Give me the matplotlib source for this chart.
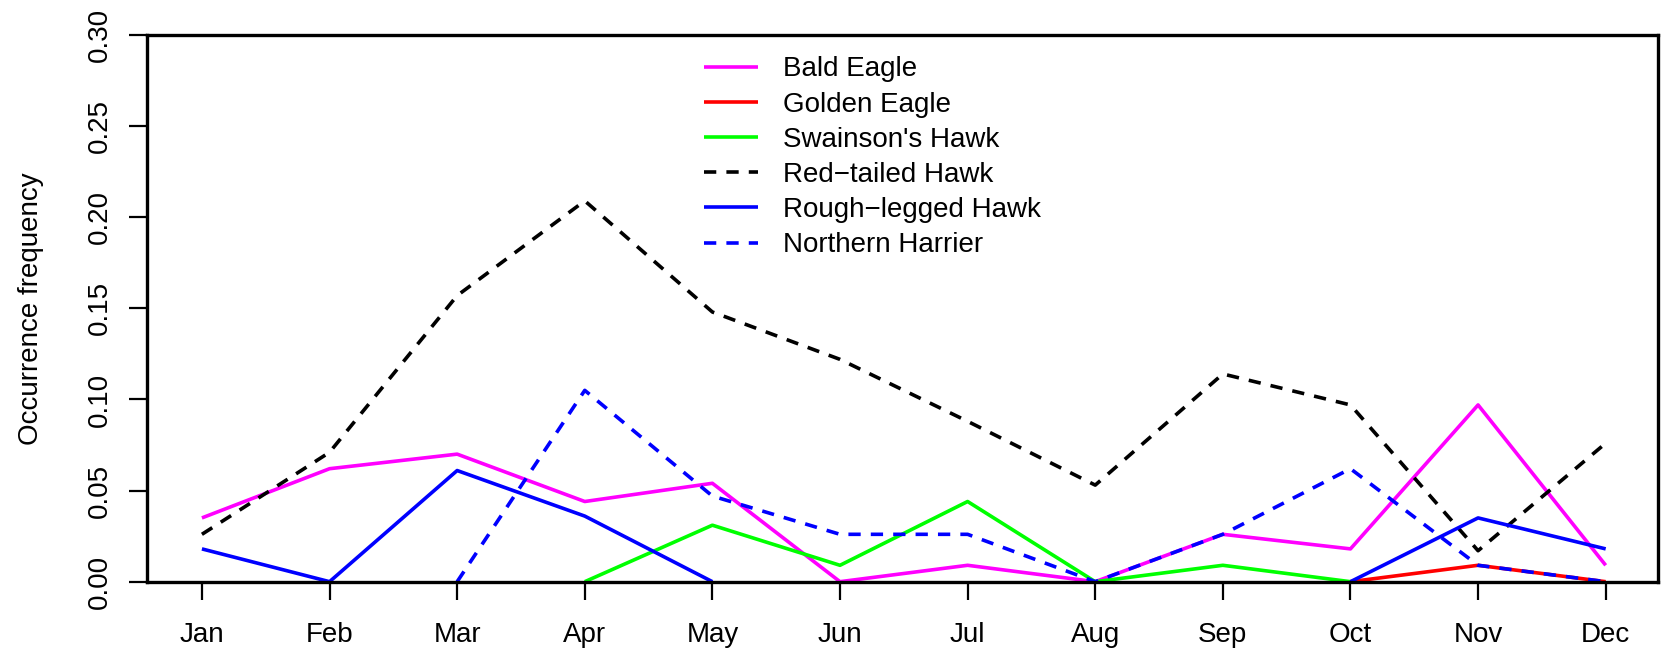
import numpy as np
import matplotlib
matplotlib.use("Agg")
import matplotlib.pyplot as plt

plt.rcParams['font.family'] = ['Liberation Sans', 'DejaVu Sans']

months = ["Jan", "Feb", "Mar", "Apr", "May", "Jun",
          "Jul", "Aug", "Sep", "Oct", "Nov", "Dec"]
nan = np.nan

# monthly occurrence frequency per species (nan = no data that month)
bald_eagle = [0.035, 0.062, 0.070, 0.044, 0.054, 0.0, 0.009, 0.0, 0.026, 0.018, 0.097, 0.009]
golden_eagle = [nan, nan, nan, nan, nan, nan, nan, nan, nan, 0.0, 0.009, 0.0]
swainsons_hawk = [nan, nan, nan, 0.0, 0.031, 0.009, 0.044, 0.0, 0.009, 0.0, nan, nan]
red_tailed_hawk = [0.026, 0.071, 0.157, 0.209, 0.148, 0.122, 0.088, 0.053, 0.114, 0.097, 0.017, 0.076]
rough_legged_hawk = [0.018, 0.0, 0.061, 0.036, 0.0, nan, nan, nan, nan, 0.0, 0.035, 0.018]
northern_harrier = [nan, nan, 0.0, 0.105, 0.047, 0.026, 0.026, 0.0, 0.026, 0.062, 0.009, 0.0]

series = [
    ("Bald Eagle", bald_eagle, "#FF00FF", "-"),
    ("Golden Eagle", golden_eagle, "#FF0000", "-"),
    ("Swainson's Hawk", swainsons_hawk, "#00FF00", "-"),
    ("Red\u2212tailed Hawk", red_tailed_hawk, "black", "--"),
    ("Rough\u2212legged Hawk", rough_legged_hawk, "#0000FF", "-"),
    ("Northern Harrier", northern_harrier, "#0000FF", "--"),
]

fig = plt.figure(figsize=(16.61, 6.53), dpi=100)
ax = fig.add_axes([0.0883, 0.1092, 0.9099, 0.8372])

x = np.arange(1, 13)
lw = 2.6
for name, vals, col, ls in series:
    line, = ax.plot(x, vals, color=col, lw=lw, label=name, solid_capstyle='butt')
    if ls == "--":
        line.set_dashes((3.4, 2.8))
        line.set_dash_capstyle('butt')

ax.set_xlim(0.567, 12.41)
ax.set_ylim(0, 0.30)

yt = np.arange(0, 0.31, 0.05)
ax.set_xticks(x)
ax.set_xticklabels(months)
ax.set_yticks(yt)
ax.set_yticklabels(["%.2f" % v for v in yt], rotation=90, va='center')

ax.tick_params(axis='both', direction='out', length=13, width=1.6, labelsize=20)
ax.tick_params(axis='x', pad=16)
ax.tick_params(axis='y', pad=11.5)
for sp in ax.spines.values():
    sp.set_linewidth(2.4)

ax.set_ylabel("Occurrence frequency", fontsize=20)
ax.yaxis.set_label_coords(-0.068, 0.5)

ax.legend(loc='upper left', bbox_to_anchor=(704 / 1661, 1 - 56.5 / 653),
          bbox_transform=fig.transFigure, frameon=False, fontsize=20,
          handlelength=1.94, handletextpad=0.92, labelspacing=0.33,
          borderpad=0, borderaxespad=0)

fig.savefig("out.png", dpi=100, facecolor="white")
